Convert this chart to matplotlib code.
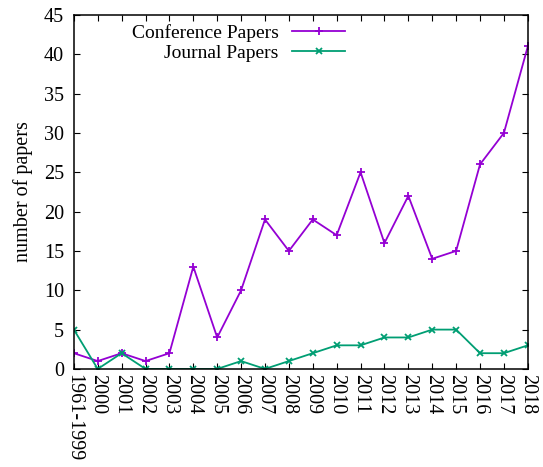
import matplotlib
matplotlib.use("Agg")
import matplotlib.pyplot as plt

# data
years = ["1961-1999", "2000", "2001", "2002", "2003", "2004", "2005", "2006",
         "2007", "2008", "2009", "2010", "2011", "2012", "2013", "2014",
         "2015", "2016", "2017", "2018"]
conference = [2, 1, 2, 1, 2, 13, 4, 10, 19, 15, 19, 17, 25, 16, 22, 14, 15, 26, 30, 41]
journal = [5, 0, 2, 0, 0, 0, 0, 1, 0, 1, 2, 3, 3, 4, 4, 5, 5, 2, 2, 3]

plt.rcParams["font.family"] = ["Liberation Serif", "DejaVu Serif"]
plt.rcParams["font.size"] = 14.5

fig = plt.figure(figsize=(5.43, 4.67), dpi=100)
ax = fig.add_axes([0.136, 0.210, 0.836, 0.758])

x = list(range(len(years)))
l1, = ax.plot(x, conference, color="#9400d3", lw=1.3, marker="+", ms=6, mew=1.3,
              label="Conference Papers")
l2, = ax.plot(x, journal, color="#009e73", lw=1.3, marker="x", ms=5, mew=1.3,
              label="Journal Papers")

ax.set_xlim(0, len(years) - 1)
ax.set_ylim(0, 45)
ax.set_yticks(range(0, 46, 5))
ax.set_xticks(x)
ax.set_xticklabels(years, rotation=270, ha="center", va="top")
ax.tick_params(direction="in", length=4, width=0.8, top=True, right=True)
ax.tick_params(axis="x", pad=4)
ax.tick_params(axis="y", pad=7)
ax.set_ylabel("number of papers", labelpad=8)
for s in ax.spines.values():
    s.set_linewidth(1.1)

# gnuplot-style key: text right aligned, sample line on the right
leg1 = ax.legend(handles=[l1], loc="upper right", bbox_to_anchor=(0.597, 0.975),
                 frameon=False, markerfirst=False, handlelength=2.7,
                 borderpad=0, borderaxespad=0, handletextpad=0.7, fontsize=14)
ax.add_artist(leg1)
ax.legend(handles=[l2], loc="upper right", bbox_to_anchor=(0.597, 0.918),
          frameon=False, markerfirst=False, handlelength=2.7,
          borderpad=0, borderaxespad=0, handletextpad=0.7, fontsize=14)

fig.savefig("out.png", dpi=100)
